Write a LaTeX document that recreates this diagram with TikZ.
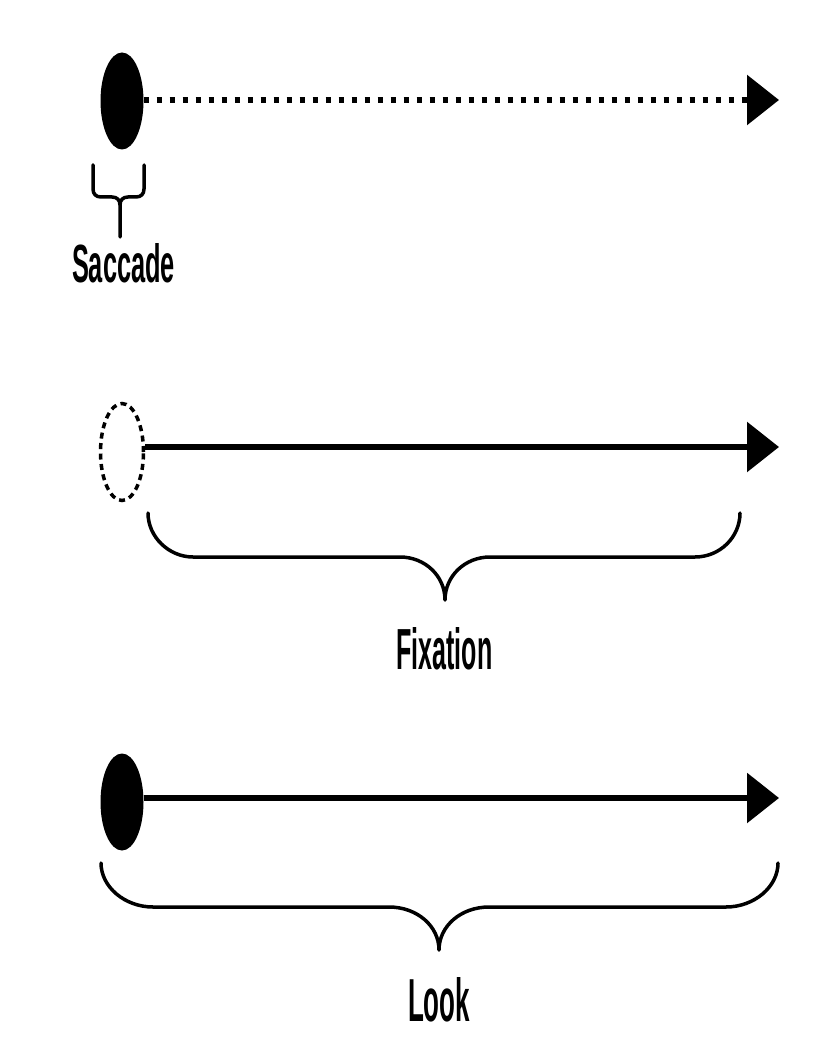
\documentclass[tikz,border=0pt]{standalone}
\usepackage{fontspec}
\setmainfont{Liberation Sans}
\usepackage{graphicx}
\usetikzlibrary{shapes.geometric,arrows.meta}
\begin{document}
\begin{tikzpicture}[x=1pt,y=-1pt,
  eye/.style={ellipse, minimum width=43pt, minimum height=97pt, inner sep=0pt},
  solideye/.style={eye, fill=black},
  dotteye/.style={eye, draw=black, line width=3.5pt, dash pattern=on 6pt off 4.5pt},
  gaze/.style={line width=6pt, -{Triangle[length=32pt,width=49pt]}},
  dotgaze/.style={gaze, dash pattern=on 5pt off 8pt},
  brace/.style={line width=3.5pt, line cap=round, line join=round},
  lbl/.style={inner sep=0pt, anchor=south}]
\useasboundingbox (0,0) rectangle (816,1056);

% Saccade row
\node[solideye] (e1) at (122,101) {};
\coordinate (t1) at (779,100);
\draw[dotgaze] (e1.east |- t1) -- (t1);
\draw[brace] (93,165) -- (93,189) .. controls (93,194) and (96,197) .. (101,197) -- (112,197) .. controls (117,197) and (120,200) .. (120,205) -- (120,237)
  (120,205) .. controls (120,200) and (123,197) .. (128,197) -- (136,197) .. controls (141,197) and (144,194) .. (144,189) -- (144,165);
\node[lbl] (l1) at (123.5,283) {\resizebox{103pt}{39pt}{\bfseries Saccade}};

% Fixation row
\node[dotteye] (e2) at (122,452) {};
\coordinate (t2) at (779,447);
\draw[gaze] (e2.east |- t2) -- (t2);
\draw[brace] (148,513) .. controls (148,537) and (169,557) .. (193,557) -- (400,557)
  .. controls (425,557) and (445,576) .. (445,600)
  .. controls (445,576) and (465,557) .. (490,557) -- (695,557)
  .. controls (720,557) and (740,537) .. (740,513);
\node[lbl] (l2) at (444.5,670) {\resizebox{96pt}{42pt}{\bfseries Fixation}};

% Look row
\node[solideye] (e3) at (122,802) {};
\coordinate (t3) at (779,798);
\draw[gaze] (e3.east |- t3) -- (t3);
\draw[brace] (101,863) .. controls (101,887) and (125,907) .. (153,907) -- (389,907)
  .. controls (417,907) and (439,926) .. (439,950)
  .. controls (439,926) and (461,907) .. (489,907) -- (726,907)
  .. controls (754,907) and (778,887) .. (778,863);
\node[lbl] (l3) at (439,1022) {\resizebox{62pt}{44pt}{\bfseries Look}};
\end{tikzpicture}
\end{document}
